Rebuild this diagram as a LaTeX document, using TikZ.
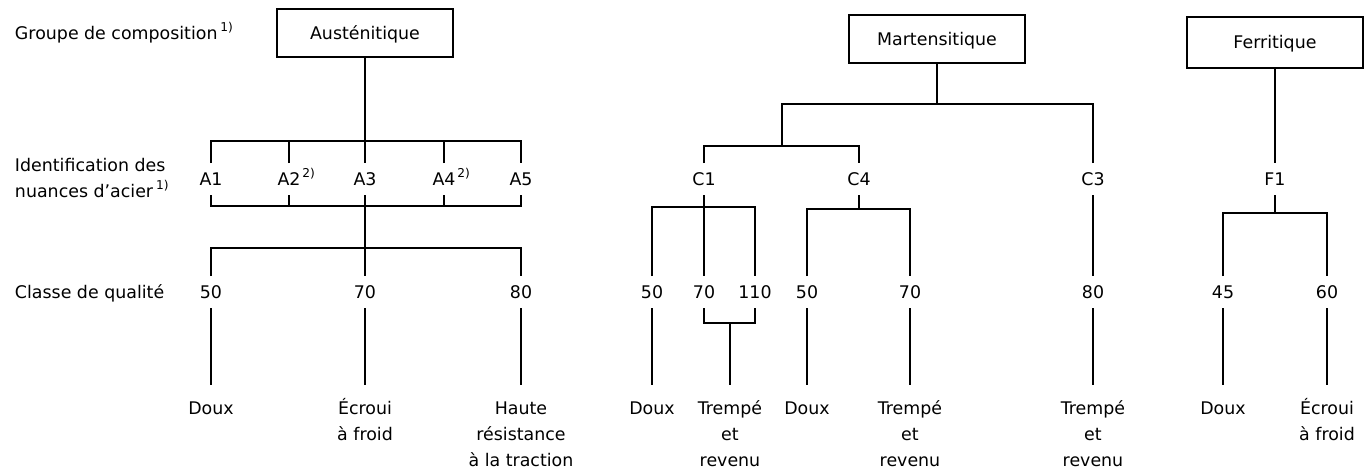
\documentclass[tikz,border=0pt]{standalone}
\usepackage{fontspec}
\setmainfont{DejaVu Sans}
\begin{document}
\begin{tikzpicture}[x=0.5pt,y=-0.5pt, line width=1pt, line join=miter,
  every node/.style={font=\fontsize{8.7pt}{13pt}\selectfont},
  grp/.style={draw, line width=1pt, minimum width=88pt, minimum height=24pt, inner sep=0pt, text height=6.4pt, text depth=0pt},
  idl/.style={inner sep=0pt, minimum height=15pt, text height=6.4pt, text depth=0pt},
  res/.style={inner sep=0pt, anchor=north, align=center},
  side/.style={inner sep=0pt, align=left},
  tail/.style={shorten >=5pt}
]
\useasboundingbox (0,0) rectangle (1372,471);

% side labels
\node[side, anchor=base west] (lgrp) at (14,39.5) {Groupe de composition\,\textsuperscript{1)}};
\node[side, anchor=west] (lid) at (14,178) {Identification des\\nuances d’acier\,\textsuperscript{1)}};
\node[side, anchor=base west] (lcl) at (14,298.5) {Classe de qualité};

% group boxes
\node[grp] (aus) at (365,33) {Austénitique};
\node[grp] (mar) at (937,39) {Martensitique};
\node[grp, minimum height=25.5pt] (fer) at (1275,42.5) {Ferritique};

% steel identification
\node[idl] (A1) at (211,179) {A1};
\node[idl] (A2) at (289,179) {A2\rlap{\textsuperscript{\kern1pt 2)}}};
\node[idl] (A3) at (365,179) {A3};
\node[idl] (A4) at (444,179) {A4\rlap{\textsuperscript{\kern1pt 2)}}};
\node[idl] (A5) at (521,179) {A5};
\node[idl] (C1) at (704,179) {C1};
\node[idl] (C4) at (859,179) {C4};
\node[idl] (C3) at (1093,179) {C3};
\node[idl] (F1) at (1275,179) {F1};

% property classes
\node[idl] (L50) at (211,292) {50};
\node[idl] (L70) at (365,292) {70};
\node[idl] (L80) at (521,292) {80};
\node[idl] (M50) at (652,292) {50};
\node[idl] (M70) at (704,292) {70};
\node[idl] (M110) at (755,292) {110};
\node[idl] (N50) at (807,292) {50};
\node[idl] (N70) at (910,292) {70};
\node[idl] (P80) at (1093,292) {80};
\node[idl] (R45) at (1223,292) {45};
\node[idl] (R60) at (1327,292) {60};

% conditions
\node[res] (Ld) at (211,395) {\strut Doux};
\node[res] (Le) at (365,395) {\strut Écroui\\à froid};
\node[res] (Lh) at (521,395) {\strut Haute\\résistance\\à la traction};
\node[res] (Md) at (652,395) {\strut Doux};
\node[res] (Mt) at (730,395) {\strut Trempé\\et\\revenu};
\node[res] (Nd) at (807,395) {\strut Doux};
\node[res] (Nt) at (910,395) {\strut Trempé\\et\\revenu};
\node[res] (Pt) at (1093,395) {\strut Trempé\\et\\revenu};
\node[res] (Rd) at (1223,395) {\strut Doux};
\node[res] (Re) at (1327,395) {\strut Écroui\\à froid};

% bracket coordinates
\coordinate (atr) at (521,141);
\coordinate (abr) at (521,206);
\coordinate (qtr) at (521,248);
\coordinate (mhl) at (782,104);
\coordinate (chr) at (859,146);
\coordinate (c1r) at (755,207);
\coordinate (c4r) at (910,209);
\coordinate (tjr) at (755,323);
\coordinate (fr) at (1327,213);

% austenitic
\draw (aus.south -| A3) -- (A3.north);
\draw (A1.north) |- (atr) -- (A5.north);
\draw (A2.north) -- (A2 |- atr);
\draw (A4.north) -- (A4 |- atr);
\draw (A1.south) |- (abr) -- (A5.south);
\draw (A2.south) -- (A2 |- abr);
\draw (A4.south) -- (A4 |- abr);
\draw (A3.south) -- (L70.north);
\draw (L50.north) |- (qtr) -- (L80.north);
\draw[tail] (L50.south) -- (Ld.north);
\draw[tail] (L70.south) -- (Le.north);
\draw[tail] (L80.south) -- (Lh.north);

% martensitic
\draw (mar.south) -- (mar.south |- mhl);
\draw (C3.north) |- (mhl) -- (mhl |- chr);
\draw (C1.north) |- (chr) -- (C4.north);
\draw (M50.north) |- (c1r) -- (M110.north);
\draw (C1.south) -- (M70.north);
\draw (N50.north) |- (c4r) -- (N70.north);
\draw (C4.south) -- (C4 |- c4r);
\draw (C3.south) -- (P80.north);
\draw (M70.south) |- (tjr) -- (M110.south);
\draw[tail] (tjr -| Mt) -- (Mt.north);
\draw[tail] (M50.south) -- (Md.north);
\draw[tail] (N50.south) -- (Nd.north);
\draw[tail] (N70.south) -- (Nt.north);
\draw[tail] (P80.south) -- (Pt.north);

% ferritic
\draw (fer.south) -- (F1.north);
\draw (R45.north) |- (fr) -- (R60.north);
\draw (F1.south) -- (F1 |- fr);
\draw[tail] (R45.south) -- (Rd.north);
\draw[tail] (R60.south) -- (Re.north);
\end{tikzpicture}
\end{document}
